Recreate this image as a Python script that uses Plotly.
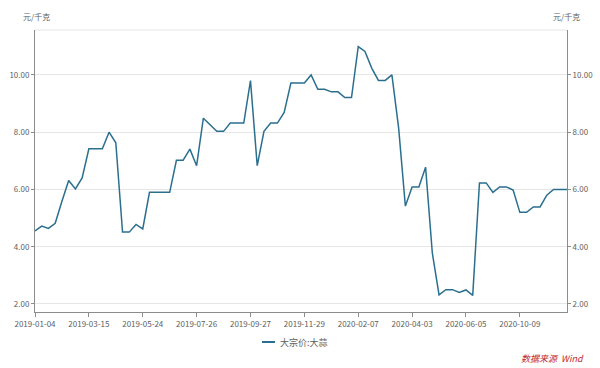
import plotly.graph_objects as go

dates = [
    "2019-01-04", "2019-01-11", "2019-01-18", "2019-01-25", "2019-02-15", "2019-02-22", "2019-03-01", "2019-03-08",
    "2019-03-15", "2019-03-22", "2019-03-29", "2019-04-12", "2019-04-19", "2019-04-26", "2019-05-10", "2019-05-17",
    "2019-05-24", "2019-05-31", "2019-06-14", "2019-06-21", "2019-06-28", "2019-07-05", "2019-07-12", "2019-07-19",
    "2019-07-26", "2019-08-02", "2019-08-09", "2019-08-16", "2019-08-23", "2019-08-30", "2019-09-06", "2019-09-20",
    "2019-09-27", "2019-10-11", "2019-10-18", "2019-10-25", "2019-11-01", "2019-11-08", "2019-11-15", "2019-11-22",
    "2019-11-29", "2019-12-06", "2019-12-13", "2019-12-20", "2019-12-27", "2020-01-03", "2020-01-10", "2020-01-17",
    "2020-02-07", "2020-02-14", "2020-02-21", "2020-02-28", "2020-03-06", "2020-03-13", "2020-03-20", "2020-03-27",
    "2020-04-03", "2020-04-10", "2020-04-17", "2020-04-24", "2020-05-08", "2020-05-15", "2020-05-22", "2020-05-29",
    "2020-06-05", "2020-06-12", "2020-06-19", "2020-07-10", "2020-07-31", "2020-08-14", "2020-08-28", "2020-09-11",
    "2020-10-09", "2020-10-16", "2020-10-23", "2020-10-30", "2020-11-06", "2020-11-13", "2020-11-20", "2020-11-27",
]

garlic = [
    4.55, 4.72, 4.64, 4.82, 5.59, 6.31, 6.02, 6.40,
    7.42, 7.42, 7.42, 8.00, 7.63, 4.51, 4.51, 4.78,
    4.62, 5.90, 5.90, 5.90, 5.90, 7.02, 7.02, 7.41,
    6.83, 8.49, 8.26, 8.03, 8.03, 8.32, 8.32, 8.32,
    9.80, 6.83, 8.03, 8.32, 8.32, 8.69, 9.72, 9.72,
    9.72, 10.00, 9.50, 9.50, 9.41, 9.41, 9.21, 9.21,
    10.99, 10.82, 10.24, 9.81, 9.81, 10.00, 8.14, 5.42,
    6.09, 6.09, 6.78, 3.78, 2.32, 2.50, 2.50, 2.40,
    2.49, 2.30, 6.23, 6.23, 5.90, 6.09, 6.09, 5.98,
    5.20, 5.20, 5.39, 5.39, 5.80, 6.00, 6.00, 6.00,
]

tick_labels = ["2019-01-04", "2019-03-15", "2019-05-24", "2019-07-26", "2019-09-27",
               "2019-11-29", "2020-02-07", "2020-04-03", "2020-06-05", "2020-10-09"]
y_ticks = [2, 4, 6, 8, 10]
y_range = [1.72, 11.57]
series_name = "大宗价:大蒜"
unit = "元/千克"

LINE = "#2b6f8f"
AX = "#8c8c8c"
GRID = "#e6e6e6"
TXT = "#606060"
FONT = "Noto Sans CJK SC, Noto Sans, sans-serif"

fig = go.Figure()
fig.add_trace(go.Scatter(x=dates, y=garlic, mode="lines", name=series_name,
                         line=dict(color=LINE, width=1.5), showlegend=False))
fig.add_trace(go.Scatter(x=dates, y=garlic, mode="lines", yaxis="y2",
                         line=dict(color="rgba(0,0,0,0)", width=0), showlegend=False,
                         hoverinfo="skip"))

fig.update_layout(
    width=600, height=368,
    margin=dict(l=35, r=33, t=30, b=56),
    paper_bgcolor="white", plot_bgcolor="white",
    font=dict(family=FONT, size=8, color=TXT),
    xaxis=dict(type="category", range=[0, len(dates) - 1],
               tickmode="array", tickvals=tick_labels, ticktext=tick_labels,
               showgrid=False, showline=True, linecolor=AX, linewidth=1,
               ticks="outside", ticklen=4, tickcolor=AX, tickangle=0,
               tickfont=dict(size=8, color=TXT), zeroline=False, automargin=False),
    yaxis=dict(range=y_range, tickmode="array", tickvals=y_ticks,
               ticktext=[f"{v:.2f}" for v in y_ticks],
               showgrid=True, gridcolor=GRID, gridwidth=1,
               showline=True, linecolor=AX, linewidth=1,
               ticks="outside", ticklen=3, tickcolor=AX,
               tickfont=dict(size=8, color=TXT), zeroline=False, automargin=False),
    yaxis2=dict(range=y_range, overlaying="y", side="right", tickmode="array",
                tickvals=y_ticks, ticktext=[f"{v:.2f}" for v in y_ticks],
                showgrid=False, showline=True, linecolor=AX, linewidth=1,
                ticks="outside", ticklen=3, tickcolor=AX,
                tickfont=dict(size=8, color=TXT), zeroline=False, automargin=False),
    showlegend=False,
)

# top border line
fig.add_shape(type="line", xref="paper", yref="paper", x0=0, x1=1, y0=1, y1=1,
              line=dict(color=GRID, width=1))

# legend (manual)
fig.add_shape(type="line", xref="paper", yref="paper",
              x0=(262 - 35) / 532, x1=(275 - 35) / 532,
              y0=-30 / 282, y1=-30 / 282, line=dict(color=LINE, width=2))
fig.add_annotation(text=series_name, xref="paper", yref="paper",
                   x=(278 - 35) / 532, y=-30 / 282, xanchor="left", yanchor="middle",
                   showarrow=False, font=dict(size=9, color=TXT))

# unit labels
fig.add_annotation(text=unit, xref="paper", yref="paper", x=(36 - 35) / 532, y=1 + 14 / 282,
                   xanchor="center", yanchor="middle", showarrow=False,
                   font=dict(size=8, color=TXT))
fig.add_annotation(text=unit, xref="paper", yref="paper", x=(566 - 35) / 532, y=1 + 14 / 282,
                   xanchor="center", yanchor="middle", showarrow=False,
                   font=dict(size=8, color=TXT))

# source
fig.add_annotation(text="<i>数据来源  Wind</i>", xref="paper", yref="paper",
                   x=(586 - 35) / 532, y=-(358 - 312) / 282, xanchor="right", yanchor="middle",
                   showarrow=False, font=dict(size=9, color="#c0282d"))

fig.write_html("out.html", config={"displayModeBar": False},
               post_script="document.body.style.margin='0';")
